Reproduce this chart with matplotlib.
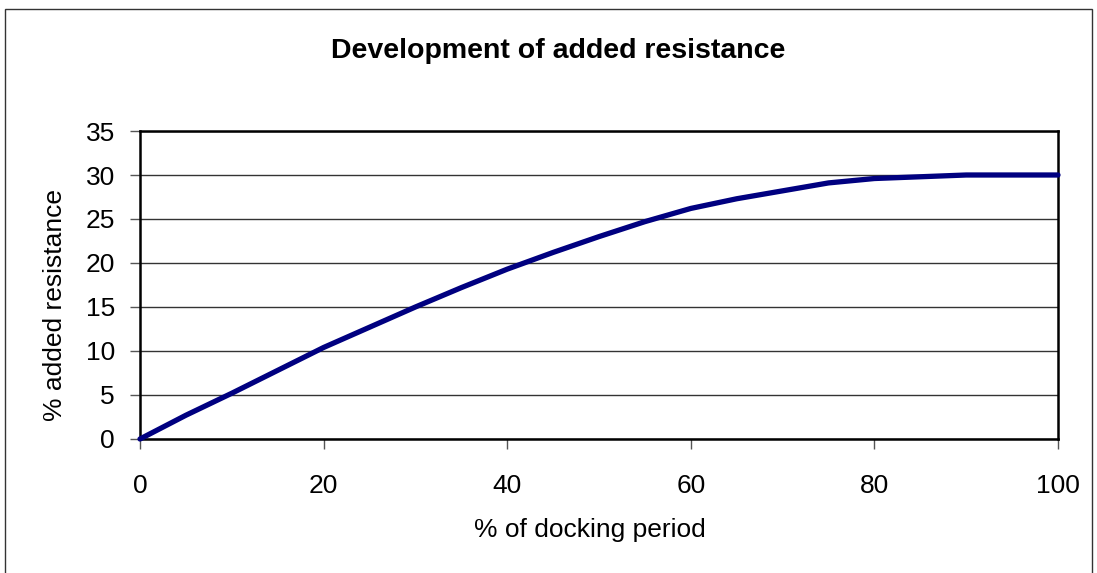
import matplotlib.pyplot as plt
from matplotlib.patches import Rectangle

# % of docking period vs % added resistance
period = [0, 5, 10, 15, 20, 25, 30, 35, 40, 45, 50, 55, 60, 65, 70, 75, 80, 85, 90, 95, 100]
resistance = [0, 2.7, 5.2, 7.8, 10.4, 12.7, 15.0, 17.2, 19.3, 21.2, 23.0, 24.7, 26.2, 27.3,
              28.2, 29.1, 29.6, 29.8, 30.0, 30.0, 30.0]
xticks = [0, 20, 40, 60, 80, 100]
yticks = [0, 5, 10, 15, 20, 25, 30, 35]

plt.rcParams['font.family'] = ['Liberation Sans', 'DejaVu Sans']

W, H = 1097, 573
fig = plt.figure(figsize=(W/100, H/100), dpi=100)
ax = fig.add_axes([140/W, 1 - 439/H, (1058 - 140)/W, (439 - 131)/H])

ax.plot(period, resistance, color='#000080', linewidth=3.8, solid_capstyle='round', clip_on=False, zorder=3)

ax.set_xlim(0, 100)
ax.set_ylim(0, 35)
ax.set_xticks(xticks)
ax.set_yticks(yticks)
ax.tick_params(axis='both', labelsize=19, length=7, width=1, color='#555555', direction='out')
ax.tick_params(axis='x', pad=18)
ax.tick_params(axis='y', pad=11)
ax.yaxis.grid(True, color='#333333', linewidth=1)
ax.set_axisbelow(True)
for s in ax.spines.values():
    s.set_linewidth(1.8)
    s.set_color('black')

# axis titles and chart title, placed like the Excel original
fig.text(590/W, 1 - 530/H, '% of docking period', fontsize=19, ha='center', va='center')
fig.text(55/W, 1 - 305/H, '% added resistance', fontsize=19, rotation=90, ha='center', va='center')
fig.text(558/W, 1 - 58/H, 'Development of added resistance', fontsize=20.5,
         fontweight='bold', ha='center', va='baseline')

# outer chart border
fig.patches.append(Rectangle((5/W, -0.1), (1092 - 5)/W, 1.1 - 9/H, transform=fig.transFigure,
                             fill=False, edgecolor='#333333', linewidth=1))

fig.savefig('out.png', dpi=100)
